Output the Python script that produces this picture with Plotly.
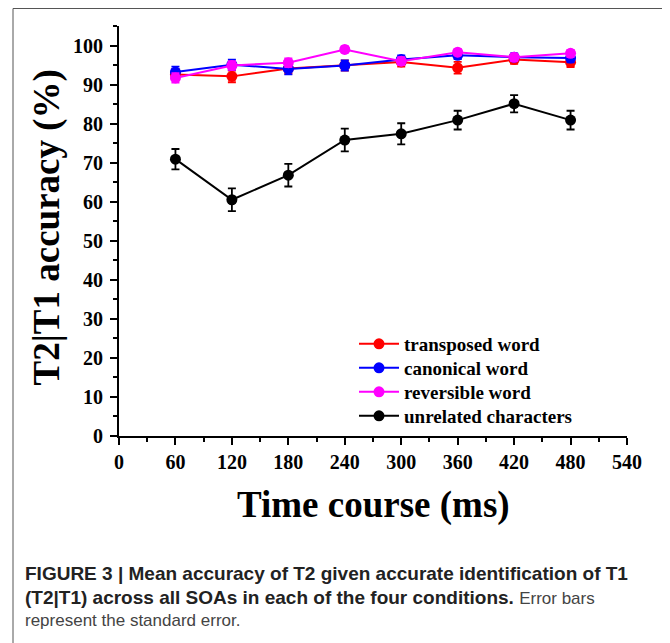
import plotly.graph_objects as go

soa = [60, 120, 180, 240, 300, 360, 420, 480]

transposed = [92.6, 92.1, 94.1, 94.9, 95.8, 94.3, 96.4, 95.7]
transposed_se = [1.4, 1.5, 1.3, 1.3, 1.2, 1.5, 1.1, 1.2]
canonical = [93.2, 95.1, 94.0, 94.9, 96.4, 97.5, 97.0, 96.8]
canonical_se = [1.4, 1.3, 1.4, 1.3, 1.1, 1.0, 1.0, 1.1]
reversible = [91.7, 94.9, 95.6, 99.0, 96.0, 98.3, 97.0, 98.0]
reversible_se = [1.2, 1.1, 1.1, 0.8, 1.0, 0.8, 0.9, 0.9]
unrelated = [70.9, 60.5, 66.8, 75.8, 77.4, 80.9, 85.1, 80.9]
unrelated_se = [2.6, 2.9, 2.9, 2.9, 2.7, 2.4, 2.2, 2.4]

series_names = ["transposed word", "canonical word", "reversible word", "unrelated characters"]
series_values = [transposed, canonical, reversible, unrelated]
series_se = [transposed_se, canonical_se, reversible_se, unrelated_se]
series_colors = ["#ff0000", "#0000ff", "#ff00ff", "#000000"]

x_ticks = [0, 60, 120, 180, 240, 300, 360, 420, 480, 540]
y_ticks = [0, 10, 20, 30, 40, 50, 60, 70, 80, 90, 100]

SERIF = "Liberation Serif"
SANS = "Liberation Sans"

OFF = 8  # page body margin
W, H = 670 - OFF, 643 - OFF
L, T = 119 - OFF, 26 - OFF
R = W - (627 - OFF)
B = H - (436 - OFF)
PW, PH = W - L - R, H - T - B


def px(x):  # page x -> paper
    return (x - OFF - L) / PW


def py(y):  # page y -> paper
    return (H - B - (y - OFF)) / PH


fig = go.Figure()
legend_ids = ["legend", "legend2", "legend3", "legend4"]
for name, vals, se, col, lg in zip(series_names, series_values, series_se, series_colors, legend_ids):
    fig.add_trace(go.Scatter(
        x=soa, y=vals, name=name, mode="lines+markers",
        line=dict(color=col, width=2),
        marker=dict(color=col, size=11, symbol="circle"),
        error_y=dict(type="data", array=se, visible=True, color=col,
                     thickness=1.8, width=4),
        legend=lg,
    ))

axis_common = dict(
    showline=True, linecolor="black", linewidth=2, showgrid=False, zeroline=False,
    ticks="outside", ticklen=7, tickwidth=2, tickcolor="black",
    tickfont=dict(family=SERIF, size=20, color="black", weight="bold"),
    mirror=False,
)

fig.update_xaxes(range=[0, 540], tickvals=x_ticks, ticktext=[str(v) for v in x_ticks],
                 minor=dict(dtick=30, tick0=0, ticks="outside", ticklen=4, tickwidth=2, tickcolor="black"),
                 ticklabelstandoff=0,
                 **axis_common)
fig.update_yaxes(range=[0, 105], tickvals=y_ticks, ticktext=[str(v) for v in y_ticks],
                 minor=dict(dtick=5, tick0=0, ticks="outside", ticklen=4, tickwidth=2, tickcolor="black"),
                 ticklabelstandoff=3,
                 **axis_common)

cap_size = 19
annotations = [
    dict(text="Time course (ms)", x=px(373), y=py(504.6), xref="paper", yref="paper",
         xanchor="center", yanchor="middle", showarrow=False,
         font=dict(family=SERIF, size=37, color="black", weight="bold")),
    dict(text="T2|T1 accuracy (%)", x=px(46), y=py(227.5), xref="paper", yref="paper",
         xanchor="center", yanchor="middle", showarrow=False, textangle=-90,
         font=dict(family=SERIF, size=37, color="black", weight="bold")),
    dict(text="<b>FIGURE 3 | Mean accuracy of T2 given accurate identification of T1</b>",
         x=px(23), y=py(573), xref="paper", yref="paper", xanchor="left", yanchor="middle",
         showarrow=False, font=dict(family=SANS, size=cap_size, color="#222222")),
    dict(text="<b>(T2|T1) across all SOAs in each of the four conditions.</b> "
              "<span style='color:#444444;font-size:17px'>Error bars</span>",
         x=px(23), y=py(597), xref="paper", yref="paper", xanchor="left", yanchor="middle",
         showarrow=False, font=dict(family=SANS, size=cap_size, color="#222222")),
    dict(text="represent the standard error.",
         x=px(23), y=py(620), xref="paper", yref="paper", xanchor="left", yanchor="middle",
         showarrow=False, font=dict(family=SANS, size=17, color="#444444")),
]

shapes = [
    dict(type="line", xref="paper", yref="paper", x0=px(13), x1=px(700), y0=py(8.5), y1=py(8.5),
         line=dict(color="#555555", width=1)),
    dict(type="line", xref="paper", yref="paper", x0=px(13), x1=px(13), y0=py(8.5), y1=py(700),
         line=dict(color="#555555", width=1)),
]

legend_centers = [344, 368, 392, 416]
legend_layout = {}
for lg, c in zip(legend_ids, legend_centers):
    legend_layout[lg] = dict(
        x=px(354), y=py(c - 19), xanchor="left", yanchor="top",
        bgcolor="rgba(0,0,0,0)", borderwidth=0,
        font=dict(family=SERIF, size=19, color="black", weight="bold"),
        itemwidth=40,
    )

fig.update_layout(
    width=W, height=H,
    margin=dict(l=L, r=R, t=T, b=B, autoexpand=False),
    paper_bgcolor="white", plot_bgcolor="white",
    showlegend=True,
    annotations=annotations,
    shapes=shapes,
    **legend_layout,
)

fig.write_html("out.html")
